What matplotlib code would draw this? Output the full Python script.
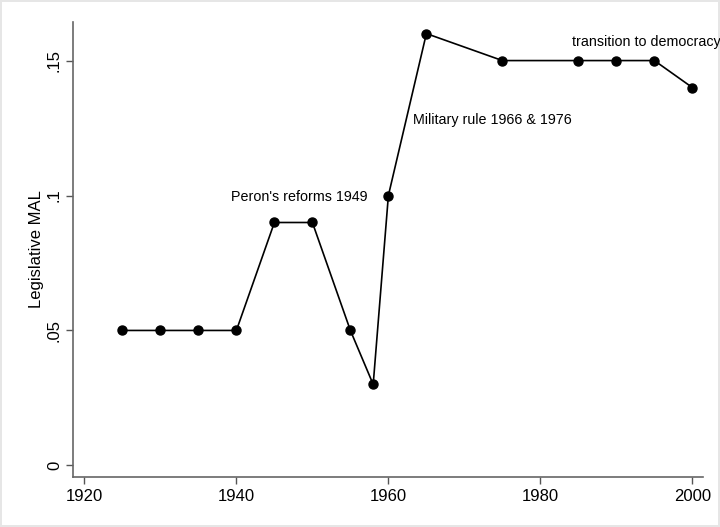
import matplotlib
matplotlib.use("Agg")
import matplotlib.pyplot as plt

plt.rcParams['font.family'] = ['Liberation Sans', 'DejaVu Sans']

# data
years = [1925, 1930, 1935, 1940, 1945, 1950, 1955, 1958, 1960, 1965, 1975, 1985, 1990, 1995, 2000]
mal = [0.05, 0.05, 0.05, 0.05, 0.09, 0.09, 0.05, 0.03, 0.10, 0.16, 0.15, 0.15, 0.15, 0.15, 0.14]
yticks = [0, 0.05, 0.10, 0.15]
ytick_labels = ['0', '.05', '.1', '.15']
xticks = [1920, 1940, 1960, 1980, 2000]

fig = plt.figure(figsize=(7.2, 5.27), dpi=100)
fig.patch.set_edgecolor('#e6e6e6')
fig.patch.set_linewidth(1.5)
ax = fig.add_axes([0.1014, 0.0949, 0.875, 0.8634])

ax.plot(years, mal, color='black', lw=1.2, marker='o', ms=6.5, zorder=3)

ax.set_xlim(1918.5, 2001.4)
ax.set_ylim(-0.0043, 0.1643)
ax.set_xticks(xticks)
ax.set_yticks(yticks)
ax.set_yticklabels(ytick_labels, rotation=90, va='center')
ax.tick_params(colors='#555555', labelcolor='black', labelsize=12, length=5, width=1)
ax.tick_params(axis='y', pad=3)
ax.set_ylabel('Legislative MAL', fontsize=12, labelpad=2)

for s in ['top', 'right']:
    ax.spines[s].set_visible(False)
for s in ['left', 'bottom']:
    ax.spines[s].set_color('#666666')
    ax.spines[s].set_linewidth(1.2)

ax.text(1948.3, 0.0995, "Peron's reforms 1949", fontsize=10.3, ha='center', va='center')
ax.text(1963.3, 0.1278, "Military rule 1966 & 1976", fontsize=10.3, ha='left', va='center')
ax.text(1984.2, 0.157, "transition to democracy", fontsize=10.3, ha='left', va='center', clip_on=False)

fig.savefig('out.png', dpi=100)
